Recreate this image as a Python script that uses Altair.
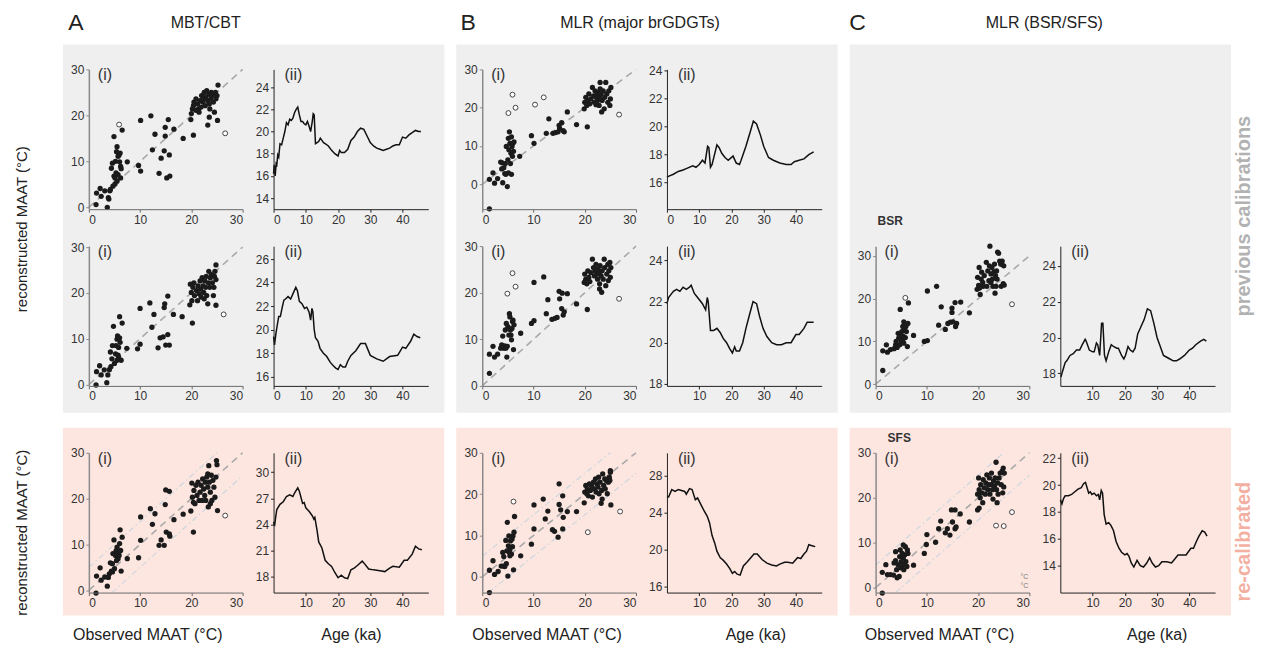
import altair as alt
import pandas as pd

FONT = "Liberation Sans"
GRAY_BG = "#efefef"
PINK_BG = "#fde6e0"

# ---------------- scatter data (observed MAAT vs reconstructed MAAT) -------------
A1_obs = [1.4,1.5,2.2,2.4,3.1, 3.6,3.8,3.9,4.1,4.2, 4.4,4.6,4.9,4.9,5.1, 5.2,5.3,5.4,5.5,5.7,
          5.9,6.0,6.2,6.5,6.1, 6.3,5.7,5.5,6.2,7.5, 4.7,5.1,9.7,10.1,10.1, 12.1,12.4,12.9,13.7,14.1,
          14.9,14.9,14.7,15.5,15.7, 15.2,15.8,16.6,18.4,19.9, 20.4,
          20.0,20.2,20.4,20.5,20.9, 21.2,21.4,21.7,21.9,22.0, 22.2,22.4,22.5,22.7,22.8,
          23.0,23.2,23.4,23.5,23.6, 23.8,23.9,24.1,24.3,24.5, 24.7,24.8,25.0,25.2,25.1, 23.2,23.5,20.9,21.5]
A1_rec = [0.6,3.1,4.1,2.4,3.6, 0.0,2.1,1.8,3.6,3.9, 8.5,9.6,15.4,6.8,6.4, 10.0,7.5,12.1,13.2,11.1,
          11.4,9.9,8.9,16.8,11.8, 8.4,7.1,5.7,6.4,9.9, 4.6,5.1,9.1,7.9,18.9, 19.9,12.5,15.9,7.4,10.7,
          17.4,15.5,12.3,19.1,11.4, 6.4,6.8,17.0,15.0,19.1, 15.7,
          20.4,21.4,22.1,22.9,23.6, 22.5,21.4,23.2,21.8,24.3, 22.9,23.6,25.0,22.1,23.9,
          25.4,23.2,24.6,22.5,21.4, 23.6,25.0,24.3,22.9,20.7, 25.0,23.6,24.3,26.6,18.9, 17.9,19.6,21.1,20.7]
A1_open_obs = [5.9, 26.6]
A1_open_rec = [18.0, 16.1]

A2_obs = [1.4,1.5,2.1,2.4,3.0, 3.5,3.7,4.0,4.2,4.3, 4.6,4.8,5.0,5.2,5.3, 5.5,5.6,5.7,5.8,6.0,
          6.0,6.1,6.3,6.5,5.8, 5.5,7.4,4.5,9.5,10.0, 10.0,11.9,12.3,12.7,13.5, 13.9,14.5,14.7,14.8,15.4,
          15.4,15.0,15.7,16.5,18.2, 19.7,20.2,
          19.8,20.0,20.1,20.3,20.5, 20.6,21.0,21.2,21.3,21.5, 21.7,21.8,21.9,22.1,22.3,
          22.4,22.5,22.6,22.8,22.9, 23.0,23.2,23.3,23.4,23.6, 23.7,23.9,24.1,24.3,24.5, 24.6,24.8,24.8,24.8,24.4]
A2_rec = [-0.1,2.8,4.1,2.1,3.2, 0.4,2.1,3.2,7.1,3.9, 8.5,12.7,4.6,6.7,8.5, 9.9,10.6,6.4,8.1,10.2,
          14.8,9.2,5.3,13.4,6.0, 5.3,7.9,5.6,7.8,8.8, 16.6,17.8,12.5,15.3,8.0, 10.2,10.4,16.8,17.6,19.3,
          10.9,8.6,8.6,15.3,14.8, 17.4,13.4,
          21.9,20.1,18.3,21.2,22.2, 19.4,20.5,18.3,21.5,19.8, 22.6,20.8,19.1,23.3,21.5,
          20.1,18.7,22.6,21.2,23.6, 19.4,17.6,22.2,24.7,21.2, 23.3,24.0,22.2,19.4,23.6, 24.7,26.1,22.9,17.3,21.2]
A2_open_obs = [26.3]
A2_open_rec = [15.3]

A3_obs = [1.4,1.5,2.2,2.4,3.1, 3.6,3.8,4.0,4.2,4.4, 4.6,4.7,4.9,5.0,5.2, 5.3,5.5,5.7,5.8,6.0,
          6.1,6.2,6.3,6.5,5.9, 5.4,7.5,4.6,9.7,10.1, 10.1,12.0,12.4,12.9,13.7, 14.1,14.7,14.9,15.0,15.7,
          15.1,15.8,15.7,16.6,18.4, 19.9,20.4,
          20.1,20.2,20.4,20.5,20.7, 20.9,21.1,21.3,21.5,21.7, 21.9,22.1,22.2,22.4,22.6,
          22.7,22.8,23.0,23.2,23.3, 23.4,23.5,23.7,23.9,24.0, 24.2,24.4,24.6,24.8,24.9, 25.0,25.1,23.2,23.7]
A3_rec = [-0.6,3.1,4.9,2.2,2.9, 0.9,2.8,3.6,6.0,4.2, 4.0,8.0,11.0,4.7,7.6, 8.6,9.4,6.9,8.0,10.2,
          13.2,8.7,4.2,11.6,7.6, 6.5,6.9,5.8,7.1,10.9, 16.0,17.8,14.4,16.7,9.8, 11.0,9.8,18.7,21.9,21.6,
          12.7,11.8,12.3,15.4,16.6, 17.3,12.7,
          23.4,20.3,19.2,21.8,18.9, 22.9,20.7,23.6,19.6,21.4, 22.9,19.6,24.3,22.1,20.7,
          23.6,19.6,24.7,22.5,18.2, 27.2,23.6,21.4,25.1,19.6, 24.0,22.5,20.3,24.7,28.3, 27.4,17.4,25.4,18.9]
A3_open_obs = [26.6]
A3_open_rec = [16.3]

B1_obs = [1.4,1.4,2.1,2.4,3.0, 3.6,3.9,4.0,3.8,4.2, 4.4,4.6,4.7,4.9,5.0, 5.1,5.2,5.3,5.4,5.5,
          5.6,5.7,5.8,5.9,6.0, 6.1,6.2,5.7,5.1,4.5, 7.3,9.6,10.1,12.5,13.0, 13.8,14.3,14.8,15.0,15.1,
          15.5,15.8,16.0,16.6,18.4, 20.5,
          19.9,20.0,20.2,20.4,20.6, 20.8,21.0,21.2,21.5,21.7, 21.9,22.0,22.2,22.4,22.5,
          22.6,22.8,22.9,23.0,23.2, 23.3,23.4,23.6,23.8,23.9, 24.1,24.3,24.5,24.7,24.9, 25.0,25.1,23.0,22.2]
B1_rec = [-6.4,1.3,3.0,0.3,1.5, 5.8,5.6,0.4,4.0,4.3, 2.8,2.6,9.9,-0.6,6.4, 12.0,9.0,13.7,10.7,5.4,
          8.1,12.4,9.9,7.3,10.7, 8.6,11.1,2.6,3.0,5.4, 7.3,12.7,10.7,13.3,17.1, 13.3,13.5,13.7,15.4,14.6,
          16.1,14.0,13.7,18.9,15.6, 15.0,
          19.7,21.4,22.7,20.6,21.9, 23.6,21.0,22.3,25.3,23.1, 21.4,24.4,22.7,23.6,21.9,
          24.0,20.6,22.7,26.6,23.6, 18.9,21.9,24.4,19.7,22.7, 26.6,23.6,21.4,24.4,20.6, 22.3,25.3,24.9,20.8]
B1_open_obs = [5.9, 5.1, 6.5, 10.3, 12.0, 26.7]
B1_open_rec = [23.4, 18.6, 20.0, 20.8, 22.7, 18.2]

B2_obs = [1.4,1.4,2.1,2.4,3.0, 3.6,3.8,4.0,4.2,4.4, 4.6,4.7,4.8,4.9,5.0, 5.2,5.3,5.4,5.5,5.6,
          5.7,5.8,5.9,6.0,6.1, 6.2,5.2,4.5,7.5,9.6, 10.1,10.1,12.0,12.5,12.8, 13.6,14.2,14.6,15.0,15.1,
          15.5,15.6,15.8,16.0,16.6, 18.4,20.5,
          19.9,20.0,20.2,20.4,20.6, 20.8,21.0,21.2,21.5,21.7, 21.9,22.0,22.2,22.4,22.5,
          22.6,22.8,22.9,23.0,23.2, 23.3,23.4,23.6,23.8,23.9, 24.1,24.3,24.5,24.7,24.9, 25.0,25.1,24.6,22.9]
B2_rec = [2.7,6.8,8.5,6.2,6.8, 8.1,8.8,10.7,8.1,8.6, 8.1,13.4,6.2,8.5,12.7, 10.9,15.5,14.8,12.0,10.9,
          9.9,12.3,13.8,14.1,7.8, 13.1,12.3,12.0,11.3,13.4, 14.0,22.2,23.4,15.5,18.5, 14.3,14.5,14.7,20.3,18.7,
          16.6,19.9,15.2,15.9,19.8, 17.6,16.4,
          22.2,24.0,22.9,21.9,24.7, 23.3,22.4,24.3,27.2,25.4, 23.6,24.7,26.1,24.0,22.9,
          25.1,24.3,21.9,25.8,23.6, 20.1,24.7,22.9,27.2,25.4, 21.5,24.0,26.1,24.7,26.5, 23.3,25.4,22.6,20.8]
B2_open_obs = [4.9, 5.9, 6.5, 26.7]
B2_open_rec = [19.8, 24.2, 21.3, 18.7]

B3_obs = [1.4,1.4,2.1,2.4,3.1, 3.7,4.0,4.1,4.2,4.4, 4.6,4.7,4.9,5.0,5.1, 5.2,5.3,5.4,5.5,5.7,
          5.8,5.9,6.0,6.1,6.2, 6.3,5.4,4.8,7.5,9.6, 10.1,10.1,11.9,12.3,12.8, 13.7,14.1,14.8,15.0,15.0,
          15.3,15.7,15.7,15.8,16.6, 18.4,19.9,
          20.0,20.2,20.4,20.5,20.7, 20.9,21.1,21.3,21.5,21.7, 21.9,22.1,22.2,22.4,22.6,
          22.7,22.8,23.0,23.2,23.3, 23.4,23.5,23.7,23.9,24.0, 24.2,24.4,24.6,24.8,25.0, 25.0,25.1,24.9]
B3_rec = [-3.8,1.6,3.9,0.6,1.3, 2.6,5.9,2.6,4.9,2.5, 8.8,3.2,13.2,0.2,7.5, 9.9,5.9,6.7,8.7,5.5,
          9.1,7.3,9.9,1.7,10.8, 14.6,5.1,6.3,5.1,7.9, 11.6,17.4,18.8,14.0,15.9, 11.4,11.0,9.6,22.5,17.5,
          16.2,19.6,11.6,14.4,15.8, 15.8,17.9,
          20.5,22.1,20.1,21.3,19.6, 22.5,20.9,22.1,19.3,22.9, 21.3,23.7,20.5,22.5,21.7,
          24.1,20.1,22.9,17.8,20.9, 18.8,24.9,22.1,23.7,21.3, 23.3,20.1,22.9,24.1,25.7, 25.3,17.4,23.3]
B3_open_obs = [6.1, 20.6, 26.9]
B3_open_rec = [18.2, 10.8, 15.8]

C2_obs = [1.4,1.4,2.1,2.3,2.9, 3.6,3.9,4.0,4.2,4.4, 4.5,4.7,4.8,5.0,5.1, 5.3,5.4,5.5,5.5,5.6,
          5.8,5.9,6.0,6.2,6.3, 6.4,5.3,4.7,7.4,9.5, 10.1,10.1,11.9,12.3,12.8, 13.6,14.1,14.6,14.9,14.9,
          15.1,15.5,15.6,15.8,16.6, 18.3,20.4,
          19.8,19.9,20.1,20.2,20.3, 20.6,20.7,20.9,21.0,21.2, 21.6,21.7,21.9,22.1,22.2,
          22.3,22.5,22.7,22.8,22.9, 23.1,23.2,23.3,23.4,23.5, 23.6,23.8,24.0,24.2,24.4,
          24.5,24.6,24.7,24.9,25.0, 25.1,23.7,22.5]
C2_rec = [3.2,7.8,9.2,7.5,8.1, 8.3,9.2,10.0,8.6,11.9, 10.8,9.2,17.5,10.0,12.3, 13.5,11.2,14.6,9.6,12.7,
          10.9,13.5,12.3,8.8,14.2, 19.0,10.4,11.5,11.4,10.0, 10.2,21.8,22.9,13.8,18.1, 12.8,14.2,14.5,17.8,16.8,
          14.6,19.1,13.5,14.2,19.2, 16.7,21.0,
          22.2,25.0,23.1,27.3,22.5, 24.6,26.2,23.8,22.9,25.4, 28.5,22.9,26.5,24.2,27.7,
          32.3,25.8,27.3,24.6,22.9, 26.3,28.1,21.3,25.4,22.9, 26.5,30.9,30.6,28.8,28.1,
          22.9,28.1,28.8,23.5,27.7, 23.2,24.6,23.8]
C2_open_obs = [5.8, 26.6]
C2_open_rec = [20.2, 18.7]

C3_obs = [1.3,1.3,2.0,2.3,2.9, 3.5,3.6,3.9,3.9,4.1, 4.2,4.4,4.6,4.7,4.9, 5.0,5.2,5.3,5.4,5.5,
          5.7,5.8,5.9,6.1,6.2, 6.3,5.4,4.8,7.4,9.5, 9.9,10.0,11.7,12.3,12.7, 13.6,14.0,14.5,14.8,15.0,
          15.5,15.5,15.7,16.5,18.3, 19.9,20.2,
          19.9,20.1,20.2,20.4,20.5, 20.7,20.9,21.0,21.2,21.4, 21.5,21.7,21.9,22.0,22.2,
          22.3,22.5,22.6,22.8,22.9, 23.0,23.2,23.3,23.5,23.6, 23.8,23.9,24.1,24.3,24.5,
          24.7,24.8,24.9,25.1,25.0, 23.7]
C3_rec = [-1.2,3.4,5.1,2.9,2.9, 2.8,5.5,6.0,8.0,4.0, 2.2,5.1,2.5,6.9,4.4, 5.8,7.6,5.1,6.6,4.0,
          7.3,9.1,5.8,4.7,8.4, 7.6,9.5,8.4,5.0,7.6, 9.6,11.8,10.1,13.1,14.8, 12.2,13.1,11.7,17.3,14.6,
          17.3,13.1,13.5,16.4,14.6, 17.3,17.7,
          20.8,24.4,21.8,20.0,22.9, 21.1,18.9,24.0,22.2,20.8, 23.3,25.1,21.8,22.9,24.4,
          20.8,22.9,25.5,21.8,19.7, 23.7,22.6,24.4,27.9,21.8, 23.3,20.8,24.4,25.5,22.9,
          25.9,21.1,26.6,25.5,22.4, 18.9]
C3_open_obs = [23.5, 25.0, 26.6]
C3_open_rec = [13.8, 13.7, 16.8]

# ---------------- down-core records (age vs MAAT) -------------
A1_age = [0,0.2,0.5,0.8,1.0, 1.3,1.6,2.0,2.5,3.0, 3.5,4.0,4.5,5.0,5.5, 6.0,6.5,7.0,7.5,8.0,
          8.5,9.0,9.5,10.0,10.5, 11.0,11.5,12.0,12.3,12.6, 13.0,13.5,14.0,14.5,15.0, 15.5,16.0,17.0,18.0,19.0,
          20.0,20.5,21.0,22.0,23.0, 24.0,25.0,26.0,27.0,28.0, 29.0,30.0,31.0,32.0,33.0, 34.0,35.0,36.0,37.0,38.0,
          39.0,40.0,41.0,42.0,43.0, 44.0,45.0,45.7]
A1_t = [16.2,17.0,16.0,17.1,17.0, 17.9,17.7,18.9,18.8,19.4, 20.0,20.8,20.6,21.1,21.0, 21.2,21.7,22.0,22.2,21.5,
        20.9,20.9,20.7,20.6,20.9, 20.5,20.0,20.9,21.6,21.5, 18.9,19.0,19.1,19.4,19.2, 19.0,18.9,18.7,18.3,18.0,
        17.8,18.3,18.1,18.1,18.4, 19.2,19.5,20.0,20.3,20.2, 19.6,19.0,18.7,18.5,18.4, 18.3,18.4,18.5,18.7,18.8,
        18.8,19.5,19.4,19.7,19.9, 20.1,20.0,20.0]

A2_age = [0,0.3,0.7,1.1,1.6, 2.1,2.7,3.2,3.7,4.5, 5.3,6.1,6.9,7.4,8.0, 8.8,9.6,10.3,11.0,11.5,
          11.9,12.2,12.6,13.0,13.8, 14.4,15.4,16.5,17.6,18.6, 19.4,20.0,20.7,21.5,22.3, 23.0,24.0,25.5,27.0,28.5,
          30.0,32.0,34.0,36.0,38.5, 40.0,41.0,42.5,43.5,44.5, 45.5]
A2_t = [19.4,18.7,19.6,20.3,21.1, 21.1,21.9,22.5,22.6,22.8, 22.6,23.1,23.6,23.3,22.4, 22.2,21.8,21.9,21.5,20.8,
        21.8,21.5,20.0,19.3,19.0, 18.4,18.0,17.7,17.2,16.9, 16.7,16.6,17.0,16.8,16.8, 17.3,17.8,18.2,18.8,18.8,
        17.8,17.5,17.3,17.7,17.8, 18.5,18.4,19.0,19.6,19.4, 19.3]

A3_age = [0,0.3,0.6,1.0,2.0, 3.0,4.0,5.0,6.0,6.5, 7.5,8.0,9.0,9.5,10.0, 11.0,12.0,12.5,12.8,13.5,
          14.0,15.0,16.0,17.0,18.0, 19.0,20.0,21.0,22.0,23.0, 24.0,25.0,26.0,27.5,28.0, 29.5,31.0,33.0,34.5,36.0,
          37.0,39.0,40.5,41.5,43.0, 44.0,45.0,46.0]
A3_t = [24.3,23.8,24.7,25.7,26.3, 26.6,27.2,27.4,27.2,27.6, 28.2,27.8,26.4,26.5,25.9, 25.5,25.0,24.6,24.8,23.3,
        22.0,21.3,19.9,19.5,19.2, 18.5,17.9,18.2,17.9,17.8, 18.8,19.0,19.3,19.8,19.6, 18.9,18.8,18.7,18.6,19.0,
        19.2,19.1,19.9,19.9,20.6, 21.5,21.2,21.1]

B1_age = [0,1,2,3.5,5, 6,8,9,10,11, 11.8,12.6,13.0,13.5,14, 15.5,16.2,17,18,19,
          20.5,21.5,22.5,23,24.5, 25.8,26.8,27.8,29,30, 31.5,33,35,37,38.5, 39.5,41,42.5,44,45.5]
B1_t = [16.4,16.5,16.6,16.8,16.9, 17.0,17.2,17.1,17.3,17.6, 17.4,18.6,18.5,17.1,17.3, 18.7,18.5,18.1,17.8,17.6,
        17.9,17.4,17.3,17.6,18.6, 19.6,20.4,20.2,19.4,18.6, 17.8,17.6,17.4,17.3,17.3, 17.5,17.6,17.7,18.0,18.2]

B2_age = [0,0.5,1.5,2,3, 4,5,6,7,7.5, 8.5,9.5,10,11,12, 12.5,12.8,13.5,14.5,15.5,
          16.5,17.5,18.5,19.5,20.3, 21,21.5,22.5,23.5,24.5, 25.5,26.7,27.8,28.7,29.8, 31,32.5,34,35.5,37,
          38.5,40,41,42.5,43.5, 44.5,45.5]
B2_t = [21.9,22.2,22.4,22.5,22.6, 22.5,22.7,22.6,22.7,22.8, 22.4,22.2,22.1,21.9,21.6, 22.2,22.0,20.6,20.6,20.7,
        20.5,20.2,20.0,19.7,19.5, 19.8,19.6,19.6,20.0,20.7, 21.3,22.0,21.9,21.3,20.7, 20.3,20.0,19.9,19.9,20.0,
        20.0,20.4,20.4,20.7,21.0, 21.0,21.0]

B3_age = [0,0.5,1.5,2.5,3.5, 4.5,5.5,6,7,7.8, 8.8,9.5,10.5,11.5,12.5, 13.2,14,14.8,15.5,16.5,
          17.5,18.5,19.5,20.3,21, 21.8,22.7,23.7,24.8,25.8, 27,28,29.5,31,32.5, 34,35,36.5,37.5,39,
          40.5,41.5,42.5,43.3,44, 45,46]
B3_t = [25.7,25.7,26.5,26.3,26.5, 26.4,26.3,26.0,26.6,26.5, 25.4,25.6,24.9,24.2,23.6, 22.9,21.5,20.7,19.8,19.1,
        18.8,18.4,17.9,17.4,17.6, 17.3,17.2,18.2,18.6,19.0, 19.5,19.5,18.9,18.5,18.3, 18.2,18.4,18.6,18.6,18.5,
        19.1,19.0,19.5,19.8,20.5, 20.4,20.3]

C2_age = [0.2,0.5,1,1.5,2, 3,4,5,6,6.8, 7.7,8,9,10,10.5, 11.2,11.6,12.2,12.8,13.2,
          13.7,14.2,15,15.8,16.5, 17.5,18,19,19.7,20.2, 21,21.7,22.5,23.2,24, 25,26,27,28,29,
          30,31,32,33,34, 35,36,37,38.5,40, 41,42,43.5,44.5,45.3]
C2_t = [17.8,18.0,18.3,18.6,18.7, 19.0,19.1,19.3,19.3,19.6, 19.9,19.8,19.3,19.2,19.2, 19.7,19.6,19.0,20.8,20.8,
        19.0,18.7,19.2,19.6,19.5, 19.4,19.4,19.0,18.8,19.0, 19.5,19.3,19.2,19.4,20.2, 20.6,21.0,21.6,21.5,20.8,
        20.0,19.5,19.0,18.9,18.8, 18.7,18.7,18.8,19.0,19.3, 19.4,19.6,19.8,19.9,19.8]

C3_age = [0,0.5,1,1.5,2.5, 3.5,4.5,5.5,6.5,7.2, 7.8,8.3,8.8,9.3,9.8, 10.5,11.2,11.8,12.2,12.7,
          13.1,13.6,14.2,15,15.7, 16.5,17.3,18.2,19,20, 20.7,21.3,22,22.8,23.8, 24.8,25.8,26.8,27.7,28.5,
          29.5,30.5,31.5,33,34.5, 35.5,36.5,38,39,40.5, 41.3,42.2,43,44,44.8, 45.5]
C3_t = [18.9,18.6,19.0,19.2,19.2, 19.3,19.5,19.7,19.8,20.1, 20.2,19.8,19.4,19.5,19.3, 19.4,19.2,19.3,18.9,19.6,
        19.4,17.8,17.1,17.2,17.0, 16.6,15.8,15.3,15.0,14.8, 14.9,14.7,14.2,13.9,14.4, 14.0,13.9,14.2,14.6,14.2,
        13.9,14.0,14.3,14.3,14.2, 14.5,14.8,14.8,14.8,15.3, 15.3,15.8,16.2,16.6,16.5, 16.2]

SCATTER_TICKS = [0, 10, 20, 30]
OBS_RANGE = [0, 30]
AGE_RANGE = [0, 48]
OFFSETS = [5, -5]

# ---------------- layout constants (pixels) -------------
SC_W, LN_W, LN_SPAN, H, R3 = 154, 178, 155, 140, 30


def one():
    return pd.DataFrame({"a": [0]})


def txt(text, x, y, size=12, color="#222222", weight="normal", align="left", angle=0):
    return alt.Chart(pd.DataFrame({"t": [text]})).mark_text(
        font=FONT, fontSize=size, color=color, fontWeight=weight, align=align,
        baseline="middle", angle=angle
    ).encode(text="t:N", x=alt.value(x), y=alt.value(y))


def box(x, x2, y, y2, color):
    return alt.Chart(one()).mark_rect(color=color, opacity=1).encode(
        x=alt.value(x), x2=alt.value(x2), y=alt.value(y), y2=alt.value(y2))


def scatter(obs, rec, oobs, orec, ydom, row3=False, recal=False, pre=(), post=()):
    height = H + (R3 if row3 else 0)
    yrange = [height, R3] if row3 else [H, 0]
    X = alt.X("obs:Q", scale=alt.Scale(domain=OBS_RANGE, nice=False, zero=False),
              axis=alt.Axis(values=SCATTER_TICKS, title=None, domainColor="#6a6a6a",
                            tickColor="#6a6a6a", zindex=2))
    Y = alt.Y("rec:Q", scale=alt.Scale(domain=ydom, nice=False, zero=False, range=yrange),
              axis=alt.Axis(values=SCATTER_TICKS, title=None, domainColor="#8a8a8a",
                            tickColor="#8a8a8a", domainWidth=1.5, zindex=2))
    layers = list(pre)
    if recal:
        rows = []
        for d in OFFSETS:
            x0 = max(OBS_RANGE[0], ydom[0] - d)
            x1 = min(OBS_RANGE[1], ydom[1] - d)
            rows += [{"obs": x0, "rec": x0 + d, "k": d}, {"obs": x1, "rec": x1 + d, "k": d}]
        layers.append(alt.Chart(pd.DataFrame(rows)).mark_line(
            color="#cdd7df", strokeWidth=1.2, strokeDash=[6, 3, 1.5, 3]).encode(X, Y, detail="k:N"))
    one2one = pd.DataFrame({"obs": OBS_RANGE, "rec": OBS_RANGE})
    layers.append(alt.Chart(one2one).mark_line(color="#a9a9a9", strokeWidth=1.6,
                                               strokeDash=[7, 5]).encode(X, Y))
    df = pd.DataFrame(list(zip(obs, rec)), columns=["obs", "rec"])
    layers.append(alt.Chart(df).mark_circle(size=28, color="#1b1b1b", opacity=1).encode(X, Y))
    dfo = pd.DataFrame(list(zip(oobs, orec)), columns=["obs", "rec"])
    layers.append(alt.Chart(dfo).mark_point(shape="circle", size=24, filled=False, fill="#ffffff",
                                            fillOpacity=1, stroke="#333333", strokeWidth=0.9,
                                            opacity=1).encode(X, Y))
    layers.append(txt("(i)", 9, 6 + (R3 if row3 else 0), size=16, color="#333333"))
    layers += list(post)
    return alt.layer(*layers).properties(width=SC_W, height=height)


def record(age, t, ydom, yticks, xticks, row3=False, post=()):
    height = H + (R3 if row3 else 0)
    yrange = [height, R3] if row3 else [H, 0]
    X = alt.X("age:Q", scale=alt.Scale(domain=AGE_RANGE, range=[0, LN_SPAN], nice=False, zero=False),
              axis=alt.Axis(values=xticks, title=None, domainColor="#222222", tickColor="#222222",
                            zindex=2))
    Y = alt.Y("t:Q", scale=alt.Scale(domain=ydom, nice=False, zero=False, range=yrange),
              axis=alt.Axis(values=yticks, title=None, domainColor="#222222", tickColor="#222222",
                            zindex=2))
    df = pd.DataFrame(list(zip(age, t)), columns=["age", "t"])
    layers = [alt.Chart(df).mark_line(color="#111111", strokeWidth=1.5).encode(X, Y),
              txt("(ii)", 11, 6 + (R3 if row3 else 0), size=16, color="#333333")]
    layers += list(post)
    return alt.layer(*layers).properties(width=LN_W, height=height)


GRAY_BOX = (-26, 356, -25, 344)
PINK_BOX = (-26, 356, 5, 193)
Y_LABEL = "reconstructed MAAT (°C)"

# ---------------- row 1 -------------
A1s = scatter(A1_obs, A1_rec, A1_open_obs, A1_open_rec, [-0.4, 30],
              pre=[box(-88, 1177, -68, 582, "#ffffff"), box(*GRAY_BOX, GRAY_BG)],
              post=[txt("A", -13, -46, size=23, align="center"),
                    txt("MBT/CBT", 117, -46, size=16, align="center"),
                    txt(Y_LABEL, -67, 160, size=15, align="center", angle=270)])
A1l = record(A1_age, A1_t, [13.0, 25.6], [14, 16, 18, 20, 22, 24], [0, 10, 20, 30, 40])
B1s = scatter(B1_obs, B1_rec, B1_open_obs, B1_open_rec, [-6.5, 30],
              pre=[box(*GRAY_BOX, GRAY_BG)],
              post=[txt("B", -14, -46, size=23, align="center"),
                    txt("MLR (major brGDGTs)", 158, -46, size=16, align="center")])
B1l = record(B1_age, B1_t, [14.1, 24.1], [16, 18, 20, 22, 24], [0, 10, 20, 30, 40])
C1s = alt.layer(box(*GRAY_BOX, GRAY_BG), txt("C", -18, -46, size=23, align="center"),
                txt("MLR (BSR/SFS)", 169, -46, size=16, align="center")).properties(width=SC_W, height=H)
C1l = txt(" ", 0, 0).properties(width=LN_W, height=H)

# ---------------- row 2 -------------
A2s = scatter(A2_obs, A2_rec, A2_open_obs, A2_open_rec, [-0.3, 30.2])
A2l = record(A2_age, A2_t, [15.2, 27.1], [16, 18, 20, 22, 24, 26], [0, 10, 20, 30, 40])
B2s = scatter(B2_obs, B2_rec, B2_open_obs, B2_open_rec, [0, 30])
B2l = record(B2_age, B2_t, [17.9, 24.7], [18, 20, 22, 24], [10, 20, 30, 40])
C2s = scatter(C2_obs, C2_rec, C2_open_obs, C2_open_rec, [-0.4, 32.3],
              post=[txt("BSR", 2, -25, size=12, weight="bold", color="#333333")])
C2l = record(C2_age, C2_t, [17.3, 25.1], [18, 20, 22, 24], [10, 20, 30, 40],
             post=[txt("previous calibrations", 184, -30, size=20, weight="bold", color="#b2b2b2",
                       align="center", angle=270)])

# ---------------- row 3 (re-calibrated) -------------
A3s = scatter(A3_obs, A3_rec, A3_open_obs, A3_open_rec, [-0.5, 30], row3=True, recal=True,
              pre=[box(*PINK_BOX, PINK_BG)],
              post=[txt(Y_LABEL, -67, 110, size=15, align="center", angle=270),
                    txt("Observed MAAT (°C)", 59, 212, size=16, align="center")])
A3l = record(A3_age, A3_t, [16.2, 32.2], [18, 21, 24, 27, 30], [10, 20, 30, 40], row3=True,
             post=[txt("Age (ka)", 78, 212, size=16, align="center")])
B3s = scatter(B3_obs, B3_rec, B3_open_obs, B3_open_rec, [-3.8, 30], row3=True, recal=True,
              pre=[box(*PINK_BOX, PINK_BG)],
              post=[txt("Observed MAAT (°C)", 65, 212, size=16, align="center")])
B3l = record(B3_age, B3_t, [15.3, 30.5], [16, 20, 24, 28], [10, 20, 30, 40], row3=True,
             post=[txt("Age (ka)", 89, 212, size=16, align="center")])
C3s = scatter(C3_obs, C3_rec, C3_open_obs, C3_open_rec, [-1.1, 30], row3=True, recal=True,
              pre=[box(*PINK_BOX, PINK_BG)],
              post=[txt("SFS", 12, 15, size=12, weight="bold", color="#333333"),
                    txt("°C", 145, 154, size=7, color="#777777"),
                    txt("°C", 145, 163, size=7, color="#777777"),
                    txt("Observed MAAT (°C)", 64, 212, size=16, align="center")])
C3l = record(C3_age, C3_t, [12.0, 22.4], [14, 16, 18, 20, 22], [10, 20, 30, 40], row3=True,
             post=[txt("Age (ka)", 97, 212, size=16, align="center"),
                   txt("re-calibrated", 184, 119, size=20, weight="bold", color="#f3b0a2",
                       align="center", angle=270)])

chart = alt.concat(
    A1s, A1l, B1s, B1l, C1s, C1l,
    A2s, A2l, B2s, B2l, C2s, C2l,
    A3s, A3l, B3s, B3l, C3s, C3l,
    columns=6, spacing={"row": 37, "column": 31}, bounds="flush", align="each"
).resolve_scale(x="independent", y="independent").configure_view(
    stroke="transparent"
).configure_axis(
    grid=False, labelFont=FONT, labelFontSize=12, labelColor="#333333", tickSize=3,
    tickWidth=1, domainWidth=1, labelPadding=2, zindex=2
).properties(padding=0, background="#ffffff")

chart.save("out.html", embed_options={"renderer": "svg", "actions": False})
